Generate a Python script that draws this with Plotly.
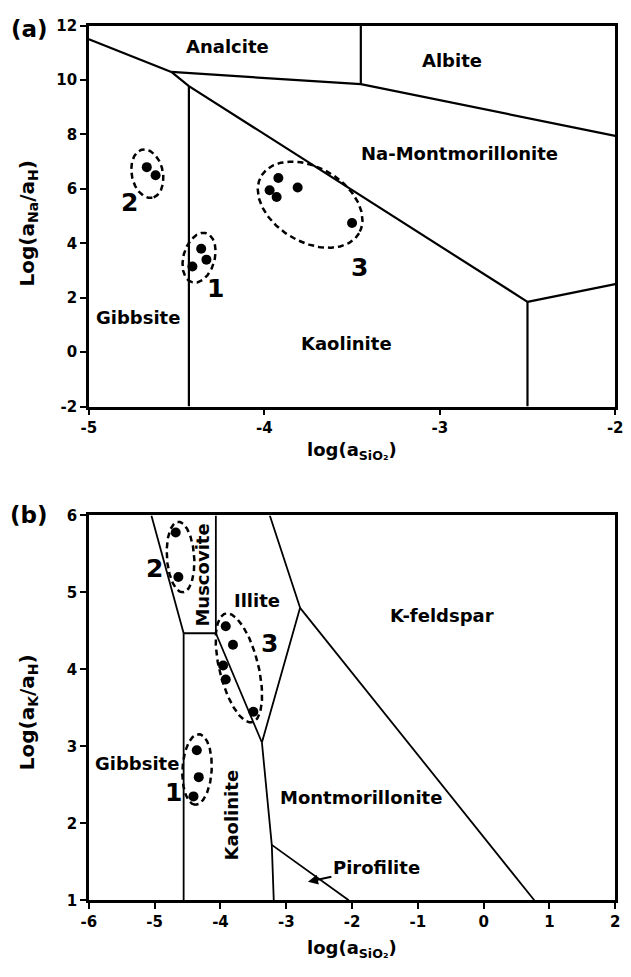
import numpy as np
import plotly.graph_objects as go

# ---------------- data: panel (a) Na system ----------------
a_bound_lines = [
    ([-5.0, -4.53], [11.5, 10.3]),
    ([-4.53, -3.45, -2.0], [10.3, 9.85, 7.95]),
    ([-3.45, -3.45], [9.85, 12.0]),
    ([-4.53, -4.43, -2.5], [10.3, 9.78, 1.85]),
    ([-4.43, -4.43], [9.78, -2.0]),
    ([-2.5, -2.5], [1.85, -2.0]),
    ([-2.5, -2.0], [1.85, 2.5]),
]
a_pts_x = [-4.67, -4.62, -4.36, -4.33, -4.41, -3.97, -3.92, -3.93, -3.81, -3.50]
a_pts_y = [6.8, 6.5, 3.8, 3.4, 3.15, 5.95, 6.4, 5.7, 6.05, 4.75]
# ellipse: centre x, centre y, semi-major px, semi-minor px, angle deg
a_ell = [(-4.667, 6.56, 25, 16, 78), (-4.372, 3.47, 26, 16, 106), (-3.739, 5.42, 58, 38, 30)]
a_labels = [("Analcite", -4.21, 11.25, 0), ("Albite", -2.93, 10.73, 0),
            ("Na-Montmorillonite", -2.89, 7.3, 0), ("Gibbsite", -4.72, 1.27, 0),
            ("Kaolinite", -3.53, 0.33, 0)]
a_nums = [("2", -4.77, 5.5), ("1", -4.28, 2.35), ("3", -3.46, 3.1)]
a_xticks = [-5, -4, -3, -2]
a_xticktext = ["-5", "-4", "-3", "-2"]
a_yticks = [-2, 0, 2, 4, 6, 8, 10, 12]
a_yticktext = ["-2", "0", "2", "4", "6", "8", "10", "12"]

# ---------------- data: panel (b) K system ----------------
b_bound_lines = [
    ([-5.05, -4.56], [6.0, 4.47]),
    ([-4.56, -4.07], [4.47, 4.47]),
    ([-4.07, -4.07], [6.0, 4.47]),
    ([-4.56, -4.56], [4.47, 1.0]),
    ([-4.07, -3.37], [4.47, 3.05]),
    ([-3.25, -2.79, -3.37], [6.0, 4.8, 3.05]),
    ([-2.79, 0.77], [4.8, 1.0]),
    ([-3.37, -3.22, -3.19], [3.05, 1.72, 1.0]),
    ([-3.22, -2.05], [1.72, 1.0]),
]
b_pts_x = [-4.68, -4.64, -3.92, -3.81, -3.96, -3.92, -3.50, -4.36, -4.33, -4.41]
b_pts_y = [5.78, 5.2, 4.56, 4.32, 4.05, 3.87, 3.45, 2.95, 2.6, 2.35]
b_ell = [(-4.607, 5.46, 36, 14, 86), (-3.72, 4.02, 57, 20, 76), (-4.356, 2.7, 36, 15, 93)]
b_labels = [("Muscovite", -4.28, 5.22, -90), ("Illite", -3.44, 4.9, 0),
            ("K-feldspar", -0.64, 4.7, 0), ("Gibbsite", -5.27, 2.78, 0),
            ("Kaolinite", -3.83, 2.11, -90), ("Montmorillonite", -1.87, 2.33, 0)]
b_nums = [("2", -5.01, 5.31), ("3", -3.25, 4.34), ("1", -4.72, 2.4)]
b_xticks = [-6, -5, -4, -3, -2, -1, 0, 1, 2]
b_xticktext = ["-6", "-5", "-4", "-3", "-2", "-1", "0", "1", "2"]
b_yticks = [1, 2, 3, 4, 5, 6]
b_yticktext = ["1", "2", "3", "4", "5", "6"]

W, H = 631, 977
XL, XR = 83, 623
A_TOP, A_BOT = 17, 405
B_TOP, B_BOT = 516, 908
a_xr, a_yr = [-5, -2], [-2, 12]
b_xr, b_yr = [-6, 2], [1, 6]

FONT = "DejaVu Sans, Arial, sans-serif"
fig = go.Figure()


def ellipse(cx, cy, a, b, ang, sx, sy):
    t = np.linspace(0, 2 * np.pi, 200)
    th = np.deg2rad(ang)
    dx = a * np.cos(t) * np.cos(th) - b * np.sin(t) * np.sin(th)
    dy = a * np.cos(t) * np.sin(th) + b * np.sin(t) * np.cos(th)
    return cx + dx / sx, cy - dy / sy


def panel(lines, px, py, ells, labels, nums, xa, ya, xr, yr, top, bot, lw):
    sx = (XR - XL) / (xr[1] - xr[0])
    sy = (bot - top) / (yr[1] - yr[0])
    for xs, ys in lines:
        fig.add_trace(go.Scatter(x=xs, y=ys, mode="lines", xaxis=xa, yaxis=ya,
                                 line=dict(color="black", width=lw), showlegend=False,
                                 hoverinfo="skip"))
    for cx, cy, a, b, ang in ells:
        ex, ey = ellipse(cx, cy, a, b, ang, sx, sy)
        fig.add_trace(go.Scatter(x=ex, y=ey, mode="lines", xaxis=xa, yaxis=ya,
                                 line=dict(color="black", width=2.5, dash="6px,4px"),
                                 showlegend=False, hoverinfo="skip"))
    fig.add_trace(go.Scatter(x=px, y=py, mode="markers", xaxis=xa, yaxis=ya,
                             marker=dict(color="black", size=10), showlegend=False))
    for txt, x, y, ang in labels:
        fig.add_annotation(x=x, y=y, xref=xa, yref=ya, text=txt,
                           showarrow=False, textangle=ang,
                           font=dict(family=FONT, size=18, color="black", weight=700))
    for txt, x, y in nums:
        fig.add_annotation(x=x, y=y, xref=xa, yref=ya, text=txt, showarrow=False,
                           font=dict(family=FONT, size=25, color="black", weight=700))


panel(a_bound_lines, a_pts_x, a_pts_y, a_ell, a_labels, a_nums, "x", "y",
      a_xr, a_yr, A_TOP, A_BOT, 2.2)
panel(b_bound_lines, b_pts_x, b_pts_y, b_ell, b_labels, b_nums, "x2", "y2",
      b_xr, b_yr, B_TOP, B_BOT, 1.8)

# Pirofilite label with arrow to the small field
fig.add_annotation(x=-2.67, y=1.24, ax=-1.63, ay=1.43, xref="x2", yref="y2",
                   axref="x2", ayref="y2", showarrow=True, arrowhead=2, arrowsize=1,
                   arrowwidth=2, arrowcolor="black", text="Pirofilite", standoff=0,
                   font=dict(family=FONT, size=18, color="black", weight=700))

axis_common = dict(showgrid=False, zeroline=False, showline=True, linecolor="black",
                   linewidth=2.5, mirror=True, ticks="outside", tickcolor="black",
                   ticklen=6, tickwidth=2,
                   tickfont=dict(family=FONT, size=15, color="black", weight=700))

fig.update_layout(
    width=W, height=H, margin=dict(l=0, r=0, t=0, b=0),
    paper_bgcolor="white", plot_bgcolor="white",
    xaxis=dict(domain=[XL / W, XR / W], range=a_xr, anchor="y", tickvals=a_xticks,
               ticktext=a_xticktext, **axis_common),
    yaxis=dict(domain=[1 - A_BOT / H, 1 - A_TOP / H], range=a_yr, anchor="x",
               tickvals=a_yticks, ticktext=a_yticktext, **axis_common),
    xaxis2=dict(domain=[XL / W, XR / W], range=b_xr, anchor="y2", tickvals=b_xticks,
                ticktext=b_xticktext, **axis_common),
    yaxis2=dict(domain=[1 - B_BOT / H, 1 - B_TOP / H], range=b_yr, anchor="x2",
                tickvals=b_yticks, ticktext=b_yticktext, **axis_common),
)

titles = [
    ("(a)", 22, 20, 0, 23), ("(b)", 22, 516, 0, 23),
    ("log(a<sub>SiO₂</sub>)", 353, 450, 0, 18), ("log(a<sub>SiO₂</sub>)", 353, 958, 0, 18),
    ("Log(a<sub>Na</sub>/a<sub>H</sub>)", 20, 218, -90, 20),
    ("Log(a<sub>K</sub>/a<sub>H</sub>)", 20, 716, -90, 20),
]
for txt, px_, py_, ang, fs in titles:
    fig.add_annotation(x=px_ / W, y=1 - py_ / H, xref="paper", yref="paper", text=txt,
                       showarrow=False, textangle=ang, xanchor="center", yanchor="middle",
                       font=dict(family=FONT, size=fs, color="black", weight=700))

fig.write_html("out.html")
